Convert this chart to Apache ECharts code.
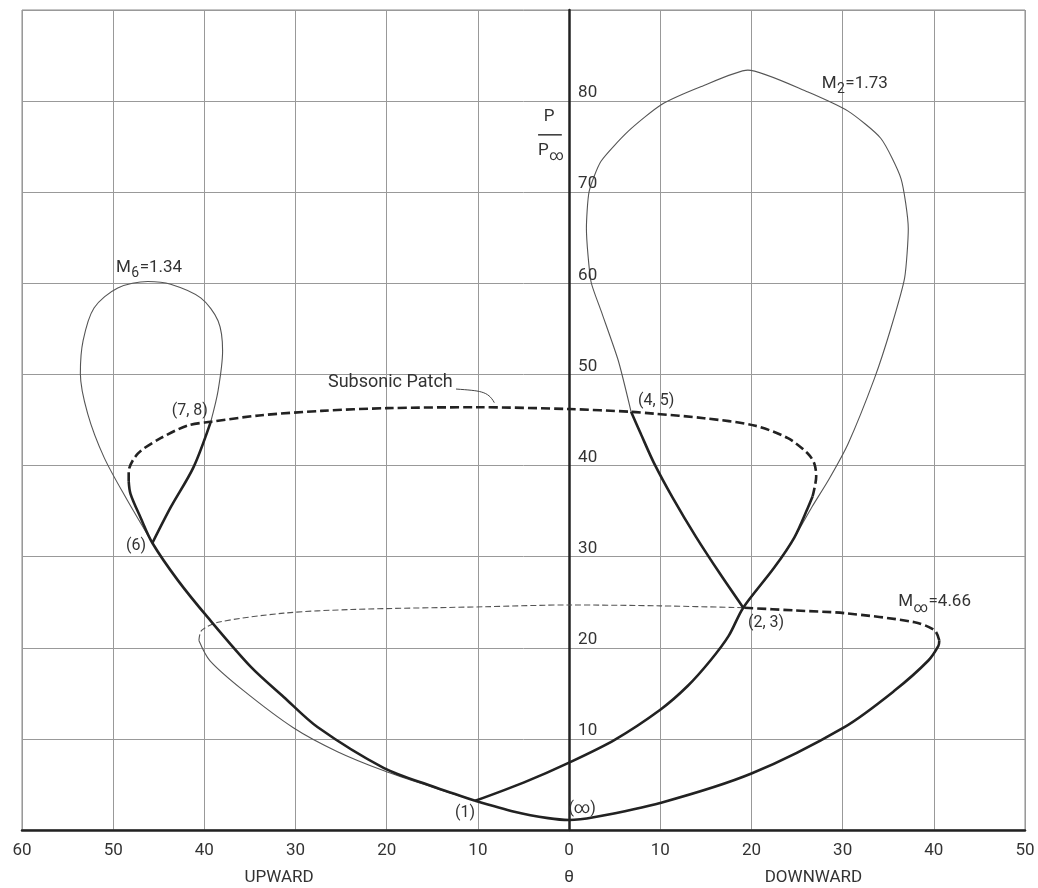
<!DOCTYPE html>
<html><head><meta charset="utf-8">
<script src="https://cdn.jsdelivr.net/npm/echarts@6/dist/echarts.min.js"></script>
<style>html,body{margin:0;padding:0;background:#fff}#c{width:1038px;height:888px}</style>
</head><body><div id="c"></div>
<script>
// ---- tick labels ----
const xTickLabels = ['60','50','40','30','20','10','0','10','20','30','40','50'];
const yTickValues = [10, 20, 30, 40, 50, 60, 70, 80];
const yTickLabels = ['10','20','30','40','50','60','70','80'];

// ---- curves: [theta (deg, negative = upward), p/p_inf] ----
// M_inf = 4.66 shock polar
const mInfThickSolid = [[-10.3,3.2],[-6,2.0],[-2.3,1.3],[0,1.1],[2.7,1.4],[10.1,3.0],[20,6.2],[30.2,11.3],[35.7,15.3],[39.4,18.6],[40.5,20.2],[40.6,20.8]];
const mInfThickDashed = [[40.6,20.8],[40.1,21.9],[37.9,22.8],[30.2,23.8],[24.7,24.1],[19.1,24.4]];
const mInfThinDashed = [[19.1,24.4],[10,24.6],[0,24.7],[-9.3,24.5],[-23.9,24.2],[-31.3,23.8],[-38.5,22.8],[-40.3,21.9],[-40.6,20.8]];
const mInfThinSolid = [[-40.6,20.8],[-39.4,18.6],[-35.7,15.3],[-30.2,11.2],[-25.4,8.6],[-20.3,6.5],[-15,4.7],[-10.3,3.2]];
// M1 polar (from state 1): supersonic branches solid, subsonic patch dashed
const m1RightSolid = [[-10.3,3.2],[-5,5.2],[0,7.4],[5,9.9],[10,13.2],[13,15.8],[15.5,18.6],[17.5,21.3],[19.1,24.4],[22.5,28.8],[24.7,32.1],[26.2,35.4],[26.7,36.6]];
const m1SubsonicDashed = [[26.7,36.6],[27.1,38.8],[26.9,40.2],[26.2,41.3],[24,43.0],[20.3,44.4],[14.8,45.2],[9.3,45.7],[6.8,45.9],[0,46.2],[-10,46.4],[-20,46.3],[-27.2,46.0],[-34,45.5],[-39.3,44.8],[-41.8,44.4],[-44.8,43.0],[-47.3,41.3],[-48.3,39.3],[-48.3,38.3]];
const m1LeftSolid = [[-48.3,38.3],[-48.1,36.9],[-47,34.3],[-45.7,31.5],[-42.9,27.4],[-39.6,23.3],[-34.9,17.9],[-31.3,14.6],[-27.6,11.3],[-20.3,6.8],[-15,4.8],[-10.3,3.2]];
// M2 = 1.73 polar (from state 2,3)
const m2ThickSolid = [[19.1,24.4],[16.5,28.2],[13.9,32.2],[11.4,36.4],[9.3,40.3],[7.9,43.4],[6.8,45.9]];
const m2Thin = [[6.8,45.9],[5.4,51.5],[3.5,57.0],[2.4,60.2],[1.9,66.0],[2.2,70.1],[3.5,73.4],[6.5,76.7],[10.1,79.6],[14.5,81.6],[19.6,83.4],[26.2,81.0],[30.6,78.9],[34.2,75.9],[36.4,71.5],[37.2,66.0],[36.8,60.6],[35.3,55.1],[33.5,49.6],[30.6,42.4],[28.5,38.5],[26.6,35.4],[24.7,32.1],[22.5,28.8],[19.1,24.4]];
// M6 = 1.34 polar (from state 6)
const m6ThickSolid = [[-45.7,31.5],[-43.7,35.4],[-41.2,39.8],[-39.3,44.8]];
const m6Thin = [[-39.3,44.8],[-38.5,48.2],[-38,52.6],[-38.5,55.9],[-40.4,58.4],[-43.7,59.9],[-46.2,60.2],[-49.5,59.5],[-52.1,57.3],[-53.3,53.7],[-53.6,50.1],[-52.8,45.7],[-51,40.9],[-48.4,36.1],[-46.7,33.2],[-45.7,31.5]];

const FONT = 'Roboto, "Liberation Sans", sans-serif';
const INK = '#222';
const TXT = '#333';

function curve(data, kind, smooth) {
  const thick = kind.indexOf('thick') === 0;
  const dashed = kind.indexOf('Dashed') > 0;
  return {
    type: 'line', data: data, symbol: 'none', smooth: smooth == null ? 0.3 : smooth, silent: true,
    z: thick ? 4 : 3,
    lineStyle: {
      color: thick ? INK : '#555',
      width: thick ? 2.6 : 1.1,
      type: dashed ? (thick ? [9, 4] : [6, 3]) : 'solid'
    }
  };
}

const chart = echarts.init(document.getElementById('c'));
chart.setOption({
  animation: false,
  grid: { left: 22, right: 13, top: 10, bottom: 58, show: true, borderColor: '#8a8a8a', borderWidth: 1 },
  xAxis: {
    type: 'value', min: -60, max: 50, interval: 10,
    axisLine: { onZero: false, lineStyle: { color: INK, width: 2.5 } },
    axisTick: { show: false },
    splitLine: { lineStyle: { color: '#999', width: 1 } },
    axisLabel: { formatter: v => xTickLabels[Math.round((v + 60) / 10)], color: TXT, fontSize: 17, fontFamily: FONT, margin: 12 }
  },
  yAxis: {
    type: 'value', min: 0, max: 90, interval: 10,
    axisLine: { show: true, onZero: true, lineStyle: { color: INK, width: 2.5 } },
    axisTick: { show: false },
    axisLabel: { show: false },
    splitLine: { lineStyle: { color: '#999', width: 1 } }
  },
  series: [
    curve(mInfThinDashed, 'thinDashed'),
    curve(mInfThinSolid, 'thinSolid'),
    curve(m2Thin, 'thinSolid', 0.2),
    curve(m6Thin, 'thinSolid'),
    curve(mInfThickSolid, 'thickSolid'),
    curve(mInfThickDashed, 'thickDashed'),
    curve(m1RightSolid, 'thickSolid'),
    curve(m1SubsonicDashed, 'thickDashed'),
    curve(m1LeftSolid, 'thickSolid'),
    curve(m2ThickSolid, 'thickSolid'),
    curve(m6ThickSolid, 'thickSolid')
  ]
});

// ---- annotations (anchored in data coordinates) ----
const P = pt => chart.convertToPixel({ gridIndex: 0 }, pt);
const mctx = document.createElement('canvas').getContext('2d');
function tw(text, size) { mctx.font = size + 'px ' + FONT; return mctx.measureText(text).width; }
function tEl(x, y, text, align, size, vAlign) {
  return { type: 'text', x: x, y: y, z: 10, silent: true,
    style: { text: text, align: align || 'center', verticalAlign: vAlign || 'middle', fill: TXT, font: (size || 16) + 'px ' + FONT } };
}
function txt(pt, text, align, size) { const p = P(pt); return tEl(p[0], p[1], text, align, size); }
// base letter + subscript + remainder, left-anchored at pt
function subTxt(pt, base, sub, rest, size) {
  const p = P(pt), ss = size - 3;
  const w1 = tw(base, size), w2 = tw(sub, ss);
  const out = [tEl(p[0], p[1], base, 'left', size), tEl(p[0] + w1 + 0.5, p[1] + 6, sub, 'left', ss)];
  if (rest) out.push(tEl(p[0] + w1 + w2 + 1, p[1], rest, 'left', size));
  return out;
}
const graphics = [];
// y tick labels beside the theta = 0 axis
yTickValues.forEach((v, i) => { const p = P([0, v]); graphics.push(tEl(p[0] + 9, p[1] - 8, yTickLabels[i], 'left', 17)); });
graphics.push(
  txt([-11.4, 1.87], '(1)'),
  txt([1.43, 2.3], '(∞)'),
  txt([21.6, 22.7], '(2, 3)'),
  txt([9.55, 47.1], '(4, 5)'),
  txt([-41.6, 46.0], '(7, 8)'),
  txt([-47.5, 31.2], '(6)'),
  ...subTxt([-49.7, 61.7], 'M', '6', '=1.34', 17),
  ...subTxt([27.7, 81.9], 'M', '2', '=1.73', 17),
  ...subTxt([36.1, 25.0], 'M', '∞', '=4.66', 17),
  txt([-19.6, 49.1], 'Subsonic Patch', 'center', 18)
);
const leadA = P([-12.4, 48.4]), leadB = P([-8.9, 48.2]), leadC = P([-8.2, 46.9]);
graphics.push({ type: 'bezierCurve', z: 10, silent: true,
  shape: { x1: leadA[0], y1: leadA[1], x2: leadC[0], y2: leadC[1], cpx1: leadB[0] - 8, cpy1: leadB[1], cpx2: leadB[0], cpy2: leadB[1] },
  style: { stroke: '#444', lineWidth: 1, fill: null } });
// P / P_inf axis title
const fracL = P([-3.4, 76.3]), fracR = P([-0.8, 76.3]);
graphics.push(txt([-2.2, 78.3], 'P', 'center', 17));
graphics.push({ type: 'line', z: 10, silent: true, shape: { x1: fracL[0], y1: fracL[1], x2: fracR[0], y2: fracR[1] }, style: { stroke: TXT, lineWidth: 1.5 } });
graphics.push(...subTxt([-3.4, 74.6], 'P', '∞', '', 17));
graphics.push(
  txt([-31.8, -5.2], 'UPWARD', 'center', 17),
  txt([0, -5.2], 'θ', 'center', 17),
  txt([26.8, -5.2], 'DOWNWARD', 'center', 17)
);
chart.setOption({ graphic: graphics });
</script></body></html>
